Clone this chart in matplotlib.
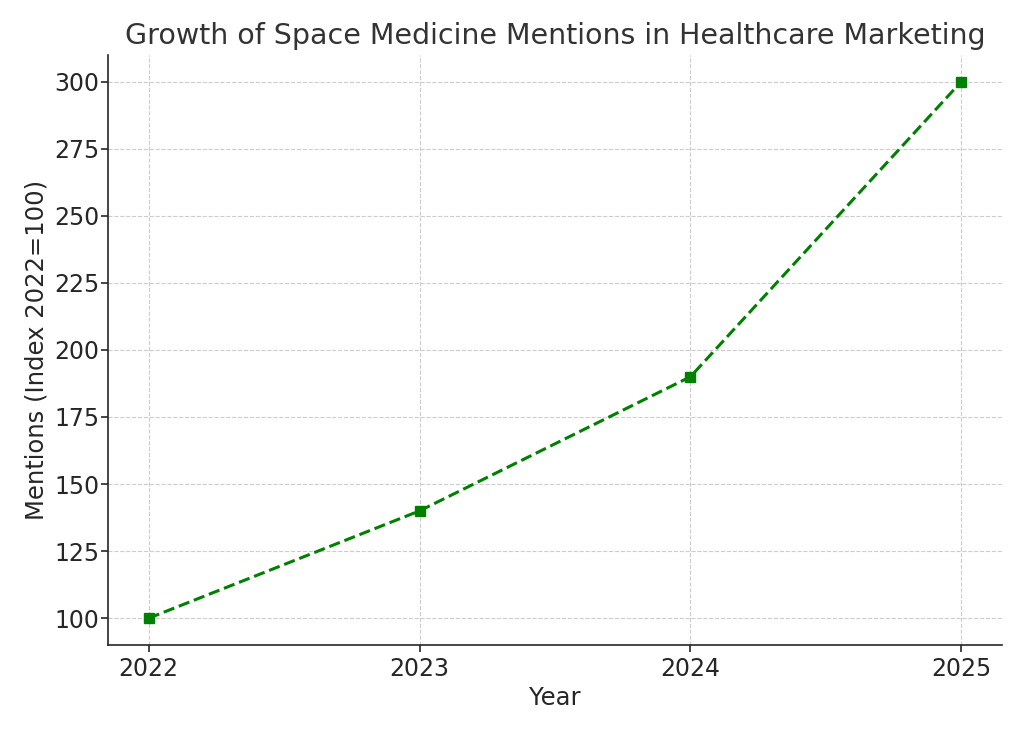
import matplotlib
matplotlib.use("Agg")
import matplotlib.pyplot as plt

years = [2022, 2023, 2024, 2025]
mentions = [100, 140, 190, 300]
title = "Growth of Space Medicine Mentions in Healthcare Marketing"
xlabel = "Year"
ylabel = "Mentions (Index 2022=100)"

plt.rcParams['font.family'] = ['DejaVu Sans']
txt = '#262626'
fig = plt.figure(figsize=(10.24, 7.31), dpi=100)
ax = fig.add_axes([0.1055, 0.1176, 0.873, 0.8075])
ax.plot(years, mentions, color='green', linestyle='--', marker='s', linewidth=2.2, markersize=7)
ax.set_title(title, fontsize=20.5, color='#333333', pad=8)
ax.set_xlabel(xlabel, fontsize=17.5, color=txt, labelpad=4)
ax.set_ylabel(ylabel, fontsize=17.5, color=txt, labelpad=4)
ax.set_xticks(years)
ax.set_yticks(range(100, 301, 25))
ax.tick_params(labelsize=17, colors=txt, length=5, width=1.2)
ax.tick_params(axis='y', pad=1)
ax.grid(True, linestyle='--', color='#cccccc', linewidth=0.8)
ax.spines['top'].set_visible(False)
ax.spines['right'].set_visible(False)
for s in ('left', 'bottom'):
    ax.spines[s].set_color(txt)
    ax.spines[s].set_linewidth(1.2)
fig.savefig('out.png', dpi=100)
